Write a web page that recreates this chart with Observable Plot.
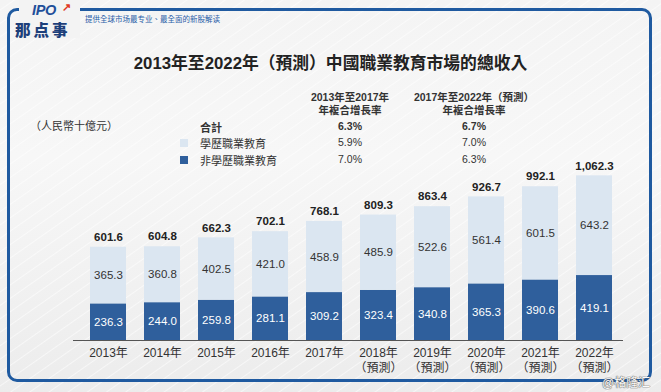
<!DOCTYPE html>
<html>
<head>
<meta charset="utf-8">
<script src="https://cdn.jsdelivr.net/npm/d3@7"></script>
<script src="https://cdn.jsdelivr.net/npm/@observablehq/plot@0.6"></script>
<style>
  html, body { margin: 0; padding: 0; }
  body { font-family: 'Liberation Sans', 'Noto Sans CJK TC', sans-serif; }
  #wrap {
    position: relative; width: 661px; height: 392px; overflow: hidden;
    background:
      repeating-linear-gradient(-35deg, rgba(255,255,255,0) 0px, rgba(255,255,255,0) 9px, rgba(255,255,255,0.55) 10px, rgba(255,255,255,0) 11px),
      linear-gradient(180deg, #f4f4f4 0%, #f7f7f7 40%, #ececec 100%);
  }
  #frame {
    position: absolute; left: 7px; top: 8px; width: 639px; height: 368px;
    border: 3px solid #1f5aa0; border-radius: 10px;
  }
  .abs { position: absolute; white-space: nowrap; }
  #logoPatch { position: absolute; left: 19px; top: 0px; width: 61px; height: 38px; background: #f3f3f3; }
  #chart { position: absolute; left: 0; top: 0; }
  .cjk { font-family: 'Noto Sans CJK TC', sans-serif; }
</style>
</head>
<body>
<div id="wrap">
  <div id="frame"></div>
  <div id="logoPatch"></div>
  <div class="abs" style="left:32px;top:2px;font:italic bold 14.5px 'Liberation Sans',sans-serif;color:#1f4f9a;letter-spacing:-0.3px;line-height:16px;">IPO</div>
  <div class="abs" style="left:62px;top:2px;font:bold 11px 'Liberation Sans',sans-serif;color:#e03a1e;line-height:11px;">↗</div>
  <div class="abs cjk" style="left:15px;top:23px;font-weight:900;font-size:15.5px;line-height:12px;color:#1d3f7a;letter-spacing:3px;">那点事</div>
  <div class="abs cjk" style="left:85px;top:14px;font-size:7.5px;line-height:9px;color:#2a5ea8;">提供全球市场最专业、最全面的新股解读</div>
  <div id="chart"></div>
  <div id="overlay"></div>
</div>
<script>
// ---- data ----
const years = ["2013","2014","2015","2016","2017","2018","2019","2020","2021","2022"];
const xLabels = ["2013年","2014年","2015年","2016年","2017年","2018年\n（預測）","2019年\n（預測）","2020年\n（預測）","2021年\n（預測）","2022年\n（預測）"];
const nonAcademic = [236.3,244.0,259.8,281.1,309.2,323.4,340.8,365.3,390.6,419.1];
const academic = [365.3,360.8,402.5,421.0,458.9,485.9,522.6,561.4,601.5,643.2];
const totals = [601.6,604.8,662.3,702.1,768.1,809.3,863.4,926.7,992.1,1062.3];
const seriesNames = ["非學歷職業教育","學歷職業教育"];
const seriesColors = ["#2f5f9c","#dbe6f1"];
const legendRows = ["合計","學歷職業教育","非學歷職業教育"];
const cagr1317 = ["6.3%","5.9%","7.0%"];
const cagr1722 = ["6.7%","7.0%","6.3%"];
const cagrHeaders = [["2013年至2017年","年複合增長率"],["2017年至2022年（預測）","年複合增長率"]];
const title = "2013年至2022年（預測）中國職業教育市場的總收入";
const unitLabel = "（人民幣十億元）";

// ---- table for plot ----
const rows = [];
years.forEach((y, i) => {
  rows.push({year: y, series: seriesNames[0], value: nonAcademic[i]});
  rows.push({year: y, series: seriesNames[1], value: academic[i]});
});
const totalRows = years.map((y, i) => ({year: y, total: totals[i]}));
const fmtTotal = v => d3.format(",.1f")(v);

const chart = Plot.plot({
  width: 661, height: 392,
  marginLeft: 68, marginRight: 27, marginTop: 169.5, marginBottom: 52,
  style: {background: "transparent", fontFamily: "'Liberation Sans', 'Noto Sans CJK TC', sans-serif", overflow: "visible"},
  x: {domain: years, padding: 0.34, label: null},
  y: {domain: [0, 1100], axis: null},
  color: {domain: seriesNames, range: seriesColors},
  marks: [
    Plot.barY(rows, {x: "year", y: "value", fill: "series", order: seriesNames}),
    Plot.text(rows, Plot.stackY({x: "year", y: "value", z: "series", order: seriesNames,
      text: d => d.series === seriesNames[0] ? d.value.toFixed(1) : "", fill: "white", fontSize: 11.5})),
    Plot.text(rows, Plot.stackY({x: "year", y: "value", z: "series", order: seriesNames,
      text: d => d.series === seriesNames[1] ? d.value.toFixed(1) : "", fill: "#333", fontSize: 11.5})),
    Plot.text(totalRows, {x: "year", y: "total", text: d => fmtTotal(d.total), dy: -10, fontWeight: "bold", fontSize: 11.5, fill: "#222"}),
    Plot.ruleY([0], {stroke: "#555", strokeWidth: 1, insetLeft: 5, insetRight: 11}),
    Plot.axisX({tickSize: 0, tickPadding: 5, fontSize: 12, fill: "#333", lineHeight: 1.3, tickFormat: d => xLabels[years.indexOf(d)]})
  ]
});
document.getElementById("chart").appendChild(chart);

// ---- overlay texts ----
const ov = document.getElementById("overlay");
function add(txt, style, cls) {
  const d = document.createElement("div");
  d.className = "abs" + (cls ? " " + cls : "");
  d.style.cssText = style;
  d.textContent = txt;
  ov.appendChild(d);
  return d;
}
add(title, "left:0;width:661px;text-align:center;top:50px;font-size:16.8px;font-weight:bold;color:#222;");
add(unitLabel, "left:30px;top:117px;font-size:11px;color:#333;");
const colX = [350, 474];
cagrHeaders.forEach((h, j) => {
  h.forEach((line, k) => {
    add(line, `left:${colX[j]-100}px;width:200px;text-align:center;top:${89 + k*13}px;font-size:10.5px;font-weight:bold;color:#333;`);
  });
});
const rowY = [127, 143, 160];
legendRows.forEach((r, i) => {
  add(r, `left:200px;top:${rowY[i]-8}px;font-size:11px;color:#333;${i===0?'font-weight:bold;':''}`);
  add(cagr1317[i], `left:${colX[0]-40}px;width:80px;text-align:center;top:${rowY[i]-7}px;font-size:10.5px;color:#333;${i===0?'font-weight:bold;':''}`);
  add(cagr1722[i], `left:${colX[1]-40}px;width:80px;text-align:center;top:${rowY[i]-7}px;font-size:10.5px;color:#333;${i===0?'font-weight:bold;':''}`);
  if (i > 0) {
    add("", `left:180px;top:${rowY[i]-4}px;width:8px;height:8px;background:${seriesColors[2 - i]};`);
  }
});
add("@格隆汇", "left:602px;top:376px;font-size:12px;line-height:14px;color:#fafafa;text-shadow:0 0 1px #666, 0 0 1px #666, 0 0 1px #666;");
</script>
</body>
</html>
